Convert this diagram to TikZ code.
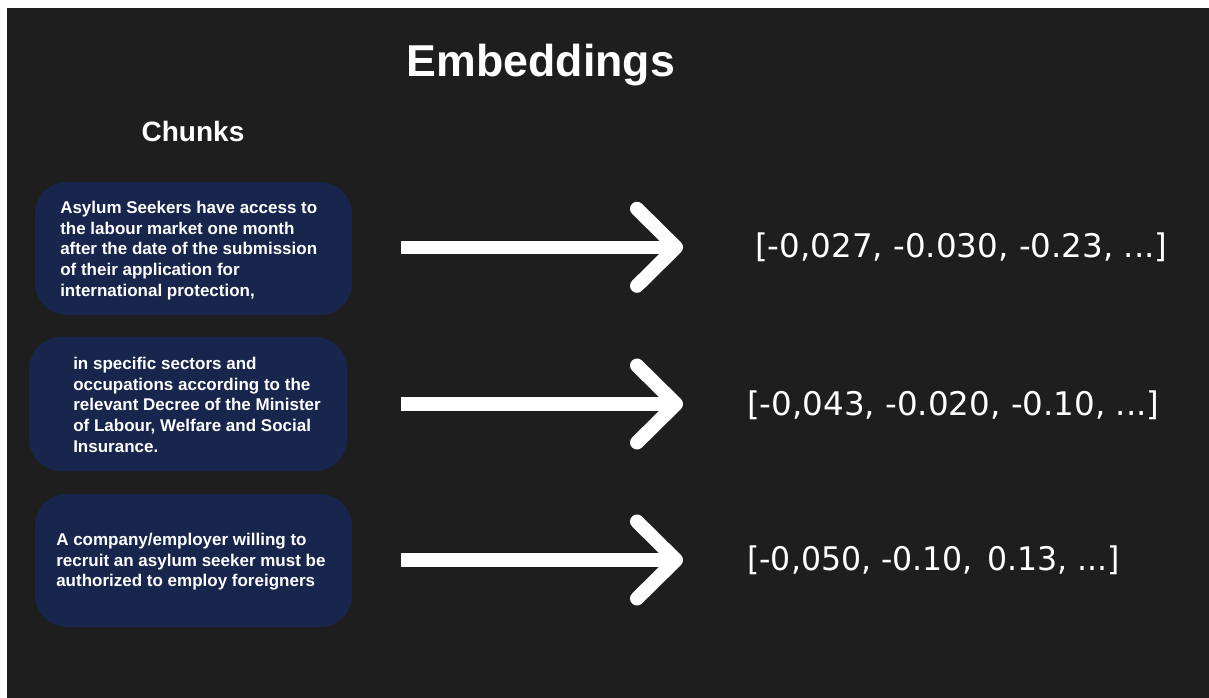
\documentclass[tikz,border=0pt]{standalone}
\usepackage{fontspec}
\setmainfont{Liberation Sans}
\newfontfamily\numfont{DejaVu Sans}
\definecolor{bgdark}{HTML}{1E1E1E}
\definecolor{navy}{HTML}{18264E}
\begin{document}
\begin{tikzpicture}[x=0.75pt,y=-0.75pt,
  chunkbox/.style={draw=none,fill=navy,rounded corners=24pt,inner sep=0pt},
  chunktext/.style={text=white,inner sep=0pt,anchor=north west,align=left,
    font=\fontsize{12.75pt}{15.5pt}\selectfont\bfseries},
  vectext/.style={text=white,inner sep=0pt,anchor=west,
    font=\fontsize{24.4pt}{28pt}\selectfont\numfont},
  shaft/.style={draw=white,line width=10pt,line cap=butt},
  head/.style={draw=white,line width=10.5pt,line cap=round,line join=round}]
\useasboundingbox (0,0) rectangle (1209,698);
\fill[white] (0,0) rectangle (1209,698);
\fill[bgdark] (7,8) rectangle (1209,698);
% titles
\node[text=white,inner sep=0pt,anchor=base,font=\fontsize{33.5pt}{36pt}\selectfont\bfseries] (title) at (541,77) {Embeddings};
\node[text=white,inner sep=0pt,anchor=base,font=\fontsize{21pt}{24pt}\selectfont\bfseries] (chunks) at (193,142) {Chunks};
% boxes
\node[chunkbox,minimum width=237.75pt,minimum height=99.75pt] (box1) at (193.5,248.5) {};
\node[chunkbox,minimum width=238.5pt,minimum height=100.5pt] (box2) at (188,404) {};
\node[chunkbox,minimum width=237.75pt,minimum height=99.75pt] (box3) at (193.5,560.5) {};
\node[chunktext] (t1) at (60,201) {Asylum Seekers have access to\\the labour market one month\\after the date of the submission\\of their application for\\international protection,};
\node[chunktext] (t2) at (73,357) {in specific sectors and\\occupations according to the\\relevant Decree of the Minister\\of Labour, Welfare and Social\\Insurance.};
\node[chunktext] (t3) at (56,533) {A company/employer willing to\\recruit an asylum seeker must be\\authorized to employ foreigners};
% vectors
\node[vectext] (v1) at (755,247) {[-0,027, -0.030, -0.23, ...]};
\node[vectext] (v2) at (747,405) {[-0,043, -0.020, -0.10, ...]};
\node[vectext,xscale=0.97,transform shape] (v3) at (747,560) {[-0,050, -0.10,\hspace{0.45em}0.13, ...]};
% arrows
\coordinate (a1s) at (401,247.3);
\coordinate (a1t) at (676,247.3);
\coordinate (a2s) at (401,404);
\coordinate (a2t) at (676,404);
\coordinate (a3s) at (401,560);
\coordinate (a3t) at (676,560);
\draw[shaft] (a1s) -- (a1t);
\draw[shaft] (a2s) -- (a2t);
\draw[shaft] (a3s) -- (a3t);
\draw[head] (a1t) ++(-39,-38.5) -- (a1t) -- ++(-39,38.5);
\draw[head] (a2t) ++(-39,-38.5) -- (a2t) -- ++(-39,38.5);
\draw[head] (a3t) ++(-39,-38.5) -- (a3t) -- ++(-39,38.5);
\end{tikzpicture}
\end{document}
